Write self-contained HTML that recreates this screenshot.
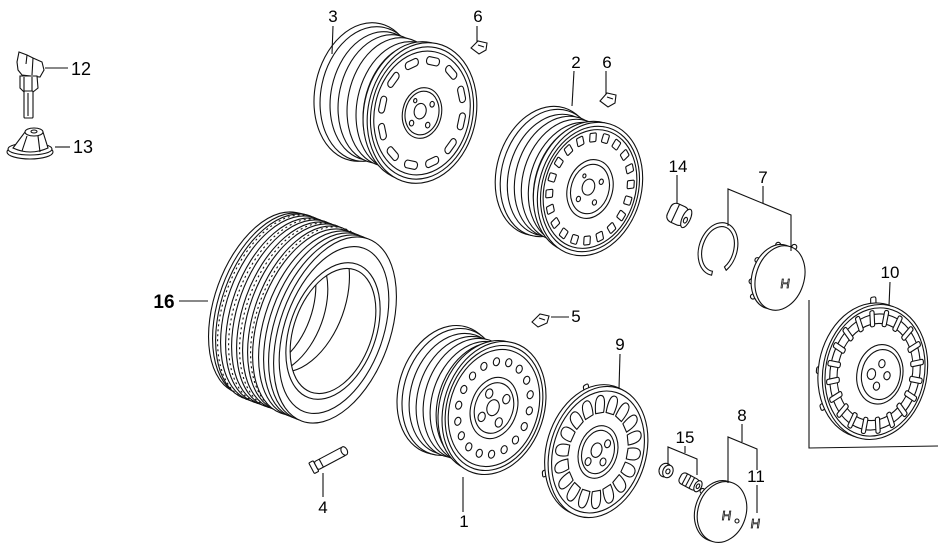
<!DOCTYPE html>
<html><head><meta charset="utf-8"><style>
html,body{margin:0;padding:0;background:#fff;}
svg{display:block}
.d ellipse,.d circle,.d path,.d rect,.d polygon{fill:#fff;stroke:#111;stroke-width:1.1;vector-effect:non-scaling-stroke;}
.d line,.d polyline{stroke:#111;stroke-width:1.1;fill:none;vector-effect:non-scaling-stroke}
.d .nf{fill:none}
.d .ds{fill:none;stroke-dasharray:2 3}
.lb text{font-family:"Liberation Sans",Arial,sans-serif;font-size:17px;fill:#000;text-anchor:middle}
.lb line{stroke:#111;stroke-width:1.1}
.em{font-family:"Liberation Sans",Arial,sans-serif;font-size:13px;fill:#fff;stroke:#111;stroke-width:0.8;text-anchor:middle}
</style></head><body>
<svg width="951" height="554" viewBox="0 0 951 554">
<rect width="951" height="554" fill="#fff"/>
<g class="d">

<!-- ===== Wheel 3 ===== -->
<ellipse transform="translate(365 92) rotate(12)" rx="50" ry="70"/>
<ellipse transform="translate(370 94) rotate(12)" rx="49" ry="68"/>
<ellipse transform="translate(377 96) rotate(12)" rx="46" ry="65"/>
<ellipse transform="translate(385 99) rotate(12)" rx="46" ry="65"/>
<ellipse transform="translate(394 102) rotate(12)" rx="46" ry="65"/>
<ellipse transform="translate(403 106) rotate(12)" rx="46" ry="65"/>
<ellipse transform="translate(411 109) rotate(12)" rx="47" ry="66"/>
<ellipse transform="translate(416 111) rotate(12)" rx="52" ry="70"/>
<g transform="translate(422 113) rotate(12) scale(0.54 0.71)">
<circle r="100"/><circle r="94"/><circle r="88"/>
<rect x="-12" y="-80" width="24" height="11" rx="5"/>
<rect x="-12" y="-80" width="24" height="11" rx="5" transform="rotate(30)"/>
<rect x="-12" y="-80" width="24" height="11" rx="5" transform="rotate(60)"/>
<rect x="-12" y="-80" width="24" height="11" rx="5" transform="rotate(90)"/>
<rect x="-12" y="-80" width="24" height="11" rx="5" transform="rotate(120)"/>
<rect x="-12" y="-80" width="24" height="11" rx="5" transform="rotate(150)"/>
<rect x="-12" y="-80" width="24" height="11" rx="5" transform="rotate(180)"/>
<rect x="-12" y="-80" width="24" height="11" rx="5" transform="rotate(210)"/>
<rect x="-12" y="-80" width="24" height="11" rx="5" transform="rotate(240)"/>
<rect x="-12" y="-80" width="24" height="11" rx="5" transform="rotate(270)"/>
<rect x="-12" y="-80" width="24" height="11" rx="5" transform="rotate(300)"/>
<rect x="-12" y="-80" width="24" height="11" rx="5" transform="rotate(330)"/>
<circle r="36"/><circle r="31"/>
<circle cx="-4" cy="-2" r="11"/>
<circle cx="15" cy="-15" r="4"/><circle cx="15" cy="15" r="4"/><circle cx="-15" cy="17" r="4"/><circle cx="-17" cy="-15" r="3"/>
</g>

<!-- ===== Wheel 2 ===== -->
<ellipse transform="translate(545 171) rotate(17)" rx="48" ry="66"/>
<ellipse transform="translate(549 173) rotate(17)" rx="47" ry="65"/>
<ellipse transform="translate(554 175) rotate(17)" rx="45" ry="62"/>
<ellipse transform="translate(561 177) rotate(17)" rx="45" ry="62"/>
<ellipse transform="translate(568 180) rotate(17)" rx="45" ry="62"/>
<ellipse transform="translate(575 183) rotate(17)" rx="45" ry="62"/>
<ellipse transform="translate(581 185) rotate(17)" rx="46" ry="63"/>
<ellipse transform="translate(585 187) rotate(17)" rx="50" ry="67"/>
<g transform="translate(590 189) rotate(17) scale(0.51 0.68)">
<circle r="100"/><circle r="94"/><circle r="89"/>
<rect x="-6" y="-84" width="12" height="13" rx="2"/>
<rect x="-6" y="-84" width="12" height="13" rx="2" transform="rotate(18)"/>
<rect x="-6" y="-84" width="12" height="13" rx="2" transform="rotate(36)"/>
<rect x="-6" y="-84" width="12" height="13" rx="2" transform="rotate(54)"/>
<rect x="-6" y="-84" width="12" height="13" rx="2" transform="rotate(72)"/>
<rect x="-6" y="-84" width="12" height="13" rx="2" transform="rotate(90)"/>
<rect x="-6" y="-84" width="12" height="13" rx="2" transform="rotate(108)"/>
<rect x="-6" y="-84" width="12" height="13" rx="2" transform="rotate(126)"/>
<rect x="-6" y="-84" width="12" height="13" rx="2" transform="rotate(144)"/>
<rect x="-6" y="-84" width="12" height="13" rx="2" transform="rotate(162)"/>
<rect x="-6" y="-84" width="12" height="13" rx="2" transform="rotate(180)"/>
<rect x="-6" y="-84" width="12" height="13" rx="2" transform="rotate(198)"/>
<rect x="-6" y="-84" width="12" height="13" rx="2" transform="rotate(216)"/>
<rect x="-6" y="-84" width="12" height="13" rx="2" transform="rotate(234)"/>
<rect x="-6" y="-84" width="12" height="13" rx="2" transform="rotate(252)"/>
<rect x="-6" y="-84" width="12" height="13" rx="2" transform="rotate(270)"/>
<rect x="-6" y="-84" width="12" height="13" rx="2" transform="rotate(288)"/>
<rect x="-6" y="-84" width="12" height="13" rx="2" transform="rotate(306)"/>
<rect x="-6" y="-84" width="12" height="13" rx="2" transform="rotate(324)"/>
<rect x="-6" y="-84" width="12" height="13" rx="2" transform="rotate(342)"/>
<circle r="44"/><circle r="37"/>
<circle cx="-4" cy="-2" r="12"/>
<circle cx="17" cy="-15" r="4"/><circle cx="16" cy="17" r="4"/><circle cx="-16" cy="19" r="4"/><circle cx="-18" cy="-16" r="3"/>
</g>

<!-- ===== Tire 16 ===== -->
<ellipse transform="translate(268 303) rotate(20)" rx="53" ry="95"/>
<ellipse transform="translate(273 305) rotate(20)" rx="54" ry="96"/>
<ellipse transform="translate(277 307) rotate(20)" rx="55" ry="97"/>
<ellipse class="ds" transform="translate(279 308) rotate(20)" rx="55" ry="97"/>
<ellipse transform="translate(282 309) rotate(20)" rx="55" ry="97"/>
<ellipse transform="translate(287 311) rotate(20)" rx="55" ry="97"/>
<ellipse class="ds" transform="translate(290 312) rotate(20)" rx="55" ry="97"/>
<ellipse transform="translate(293 313) rotate(20)" rx="55" ry="97"/>
<ellipse transform="translate(298 315) rotate(20)" rx="55" ry="97"/>
<ellipse class="ds" transform="translate(301 316) rotate(20)" rx="55" ry="97"/>
<ellipse transform="translate(304 317) rotate(20)" rx="55" ry="97"/>
<ellipse transform="translate(309 319) rotate(20)" rx="55" ry="97"/>
<ellipse class="ds" transform="translate(312 320) rotate(20)" rx="55" ry="97"/>
<ellipse transform="translate(314 322) rotate(20)" rx="55" ry="97"/>
<ellipse transform="translate(320 324) rotate(20)" rx="55" ry="97"/>
<ellipse transform="translate(325 326) rotate(20)" rx="55" ry="97"/>
<ellipse transform="translate(330 328) rotate(20)" rx="55" ry="97"/>
<ellipse transform="translate(335 330) rotate(20)" rx="55" ry="97"/>
<ellipse transform="translate(334 330) rotate(20)" rx="49" ry="87"/>
<ellipse transform="translate(333 331) rotate(20)" rx="43" ry="71"/>
<ellipse transform="translate(333 331) rotate(20)" rx="39" ry="65"/>
<clipPath id="hole"><ellipse transform="translate(333 331) rotate(20)" rx="39" ry="65"/></clipPath>
<g clip-path="url(#hole)">
<ellipse class="nf" transform="translate(272 306) rotate(20)" rx="40" ry="66"/>
<ellipse class="nf" transform="translate(282 309) rotate(20)" rx="42" ry="68"/>
<ellipse class="nf" transform="translate(300 300) rotate(20)" rx="45" ry="75"/>
</g>

<!-- ===== Wheel 1 ===== -->
<ellipse transform="translate(447 390) rotate(18)" rx="48" ry="66"/>
<ellipse transform="translate(451 392) rotate(18)" rx="47" ry="65"/>
<ellipse transform="translate(456 394) rotate(18)" rx="45" ry="62"/>
<ellipse transform="translate(463 397) rotate(18)" rx="45" ry="62"/>
<ellipse transform="translate(470 399) rotate(18)" rx="45" ry="62"/>
<ellipse transform="translate(477 402) rotate(18)" rx="45" ry="62"/>
<ellipse transform="translate(484 404) rotate(18)" rx="46" ry="63"/>
<ellipse transform="translate(489 406) rotate(18)" rx="49" ry="67"/>
<g transform="translate(494 408) rotate(18) scale(0.50 0.68)">
<circle r="100"/><circle r="94"/><circle r="88"/>
<circle cy="-70" r="6"/>
<circle cy="-70" r="6" transform="rotate(20)"/>
<circle cy="-70" r="6" transform="rotate(40)"/>
<circle cy="-70" r="6" transform="rotate(60)"/>
<circle cy="-70" r="6" transform="rotate(80)"/>
<circle cy="-70" r="6" transform="rotate(100)"/>
<circle cy="-70" r="6" transform="rotate(120)"/>
<circle cy="-70" r="6" transform="rotate(140)"/>
<circle cy="-70" r="6" transform="rotate(160)"/>
<circle cy="-70" r="6" transform="rotate(180)"/>
<circle cy="-70" r="6" transform="rotate(200)"/>
<circle cy="-70" r="6" transform="rotate(220)"/>
<circle cy="-70" r="6" transform="rotate(240)"/>
<circle cy="-70" r="6" transform="rotate(260)"/>
<circle cy="-70" r="6" transform="rotate(280)"/>
<circle cy="-70" r="6" transform="rotate(300)"/>
<circle cy="-70" r="6" transform="rotate(320)"/>
<circle cy="-70" r="6" transform="rotate(340)"/>
<circle r="46"/><circle r="38"/>
<circle cx="18" cy="-18" r="7"/><circle cx="18" cy="18" r="7"/><circle cx="-18" cy="18" r="7"/><circle cx="-18" cy="-18" r="7"/>
<circle cx="-2" cy="0" r="12"/>
</g>

<!-- ===== Valve 4 ===== -->
<g transform="translate(331 458) rotate(-28)">
<rect x="-22" y="-6" width="5" height="12" rx="1"/>
<rect x="-17" y="-4.5" width="32" height="9" rx="2"/>
<line x1="-11" y1="-4.5" x2="-11" y2="4.5"/>
<ellipse cx="15" cy="0" rx="3" ry="4.5"/>
</g>

<!-- ===== Part 12 ===== -->
<path d="M17,62 L19,52 L27,55 L33,58 L42,62 L44,70 L40,77 L22,75 L18,70 Z"/>
<line x1="27" y1="55" x2="26" y2="64"/><line x1="33" y1="58" x2="32" y2="75"/>
<path d="M20,76 L37,76 L38,88 L33,92 L24,92 L20,88 Z"/>
<line x1="24" y1="77" x2="24" y2="91"/><line x1="32" y1="77" x2="32" y2="91"/>
<rect x="24" y="91" width="9" height="27" rx="1"/>
<line x1="28" y1="93" x2="28" y2="116"/>

<!-- ===== Part 13 ===== -->
<ellipse cx="30" cy="152" rx="23" ry="7"/>
<ellipse cx="30" cy="149" rx="22" ry="6"/>
<path d="M13,148 L25,132 L43,132 L48,148 Q30,156 13,148 Z"/>
<line x1="27" y1="136" x2="22" y2="151"/><line x1="38" y1="136" x2="40" y2="152"/>
<ellipse cx="34" cy="132" rx="9" ry="4"/>
<ellipse cx="34" cy="131.5" rx="3" ry="1.5"/>

<!-- ===== Clips 6 & 5 ===== -->
<path d="M471,48 L478,41 L487,43 L486,50 L479,54 Z"/><line x1="478" y1="45" x2="484" y2="47"/>
<path d="M600,101 L607,93 L616,95 L615,103 L608,107 Z"/><line x1="607" y1="97" x2="613" y2="99"/>
<path d="M532,322 L540,314 L549,316 L547,323 L538,327 Z"/><line x1="539" y1="318" x2="545" y2="320"/>

<!-- ===== Nut 14 ===== -->
<g transform="translate(679 215) rotate(25)">
<rect x="-11" y="-10" width="19" height="20" rx="6"/>
<line x1="-4" y1="-10" x2="-4" y2="10"/>
<ellipse cx="8" cy="0" rx="4" ry="10"/>
<ellipse cx="8" cy="2" rx="1.8" ry="3"/>
</g>

<!-- ===== Ring & Cap 7 ===== -->
<g transform="translate(718 249) rotate(18)">
<path d="M1.99,26.85 A19,27 0 1 1 14.34,17.71 L11.7,15.09 A15.5,23 0 1 0 1.62,22.87 Z"/>
</g>
<g transform="translate(780 278) rotate(18)">
<circle cx="-27" cy="-10" r="2.5"/><circle cx="-26" cy="12" r="2.5"/><circle cx="-20" cy="26" r="2.5"/><circle cx="-12" cy="-31" r="2.5"/><circle cx="4" cy="-34" r="2.5"/>
<ellipse cx="-4" cy="0" rx="24" ry="33"/>
<ellipse cx="0" cy="0" rx="24" ry="33"/>
</g>
<text class="em" x="785" y="288" transform="skewX(-8) translate(40 0)">H</text>

<!-- ===== Hubcap 9 ===== -->
<g transform="translate(598 452) rotate(17) scale(0.48 0.67)">
<rect x="-5" y="-112" width="10" height="16" rx="3" transform="rotate(-36)"/>
<rect x="-5" y="-112" width="10" height="16" rx="3" transform="rotate(-120)"/>
<circle cx="-8" cy="-1" r="100"/>
<circle r="100"/><circle r="93"/>
<path d="M-8,-60 C-11,-78 -8,-87 0,-87 C8,-87 11,-78 8,-60 Z"/>
<path d="M-8,-60 C-11,-78 -8,-87 0,-87 C8,-87 11,-78 8,-60 Z" transform="rotate(20)"/>
<path d="M-8,-60 C-11,-78 -8,-87 0,-87 C8,-87 11,-78 8,-60 Z" transform="rotate(40)"/>
<path d="M-8,-60 C-11,-78 -8,-87 0,-87 C8,-87 11,-78 8,-60 Z" transform="rotate(60)"/>
<path d="M-8,-60 C-11,-78 -8,-87 0,-87 C8,-87 11,-78 8,-60 Z" transform="rotate(80)"/>
<path d="M-8,-60 C-11,-78 -8,-87 0,-87 C8,-87 11,-78 8,-60 Z" transform="rotate(100)"/>
<path d="M-8,-60 C-11,-78 -8,-87 0,-87 C8,-87 11,-78 8,-60 Z" transform="rotate(120)"/>
<path d="M-8,-60 C-11,-78 -8,-87 0,-87 C8,-87 11,-78 8,-60 Z" transform="rotate(140)"/>
<path d="M-8,-60 C-11,-78 -8,-87 0,-87 C8,-87 11,-78 8,-60 Z" transform="rotate(160)"/>
<path d="M-8,-60 C-11,-78 -8,-87 0,-87 C8,-87 11,-78 8,-60 Z" transform="rotate(180)"/>
<path d="M-8,-60 C-11,-78 -8,-87 0,-87 C8,-87 11,-78 8,-60 Z" transform="rotate(200)"/>
<path d="M-8,-60 C-11,-78 -8,-87 0,-87 C8,-87 11,-78 8,-60 Z" transform="rotate(220)"/>
<path d="M-8,-60 C-11,-78 -8,-87 0,-87 C8,-87 11,-78 8,-60 Z" transform="rotate(240)"/>
<path d="M-8,-60 C-11,-78 -8,-87 0,-87 C8,-87 11,-78 8,-60 Z" transform="rotate(260)"/>
<path d="M-8,-60 C-11,-78 -8,-87 0,-87 C8,-87 11,-78 8,-60 Z" transform="rotate(280)"/>
<path d="M-8,-60 C-11,-78 -8,-87 0,-87 C8,-87 11,-78 8,-60 Z" transform="rotate(300)"/>
<path d="M-8,-60 C-11,-78 -8,-87 0,-87 C8,-87 11,-78 8,-60 Z" transform="rotate(320)"/>
<path d="M-8,-60 C-11,-78 -8,-87 0,-87 C8,-87 11,-78 8,-60 Z" transform="rotate(340)"/>
<circle r="40"/><circle r="33"/>
<circle cx="-4" cy="-2" r="11"/>
<circle cx="14" cy="-16" r="6"/><circle cx="16" cy="12" r="6"/><circle cx="-14" cy="18" r="6"/>
</g>

<!-- ===== Part 15 ===== -->
<g transform="translate(667 471) rotate(25)">
<ellipse cx="-2" cy="0" rx="6" ry="7"/>
<ellipse cx="1" cy="0" rx="5" ry="6.5"/>
<ellipse cx="1" cy="0" rx="2" ry="2.5"/>
</g>
<g transform="translate(690 482) rotate(28)">
<rect x="-11" y="-6" width="20" height="12" rx="4"/>
<line x1="-6" y1="-6" x2="-6" y2="6"/><line x1="-2" y1="-6" x2="-2" y2="6"/><line x1="2" y1="-6" x2="2" y2="6"/>
<ellipse cx="9" cy="0" rx="3.5" ry="6"/>
<ellipse cx="9" cy="0" rx="1.5" ry="2.5"/>
</g>

<!-- ===== Cap 8 ===== -->
<g transform="translate(722 512) rotate(18)">
<circle cx="-25" cy="-14" r="2.5"/>
<ellipse cx="-3" cy="0" rx="24" ry="31"/>
<ellipse cx="0" cy="0" rx="24" ry="31"/>
</g>
<text class="em" x="726" y="520" transform="skewX(-8) translate(73 0)">H</text>
<circle cx="737" cy="521" r="2"/>
<text class="em" x="755" y="528" transform="skewX(-8) translate(74 0)">H</text>

<!-- ===== Hubcap 10 ===== -->
<g transform="translate(875 372) rotate(11) scale(0.52 0.68)">
<rect x="-5" y="-112" width="10" height="16" rx="3" transform="rotate(-16)"/>
<rect x="-5" y="-112" width="10" height="16" rx="3" transform="rotate(-97)"/>
<rect x="-5" y="-112" width="10" height="16" rx="3" transform="rotate(-127)"/>
<circle cx="-9" cy="-1" r="100"/>
<circle r="100"/><circle r="95"/><circle r="86"/><circle r="72"/>
<rect x="-4" y="-92" width="8" height="24" rx="3"/>
<rect x="-4" y="-92" width="8" height="24" rx="3" transform="rotate(18)"/>
<rect x="-4" y="-92" width="8" height="24" rx="3" transform="rotate(36)"/>
<rect x="-4" y="-92" width="8" height="24" rx="3" transform="rotate(54)"/>
<rect x="-4" y="-92" width="8" height="24" rx="3" transform="rotate(72)"/>
<rect x="-4" y="-92" width="8" height="24" rx="3" transform="rotate(90)"/>
<rect x="-4" y="-92" width="8" height="24" rx="3" transform="rotate(108)"/>
<rect x="-4" y="-92" width="8" height="24" rx="3" transform="rotate(126)"/>
<rect x="-4" y="-92" width="8" height="24" rx="3" transform="rotate(144)"/>
<rect x="-4" y="-92" width="8" height="24" rx="3" transform="rotate(162)"/>
<rect x="-4" y="-92" width="8" height="24" rx="3" transform="rotate(180)"/>
<rect x="-4" y="-92" width="8" height="24" rx="3" transform="rotate(198)"/>
<rect x="-4" y="-92" width="8" height="24" rx="3" transform="rotate(216)"/>
<rect x="-4" y="-92" width="8" height="24" rx="3" transform="rotate(234)"/>
<rect x="-4" y="-92" width="8" height="24" rx="3" transform="rotate(252)"/>
<rect x="-4" y="-92" width="8" height="24" rx="3" transform="rotate(270)"/>
<rect x="-4" y="-92" width="8" height="24" rx="3" transform="rotate(288)"/>
<rect x="-4" y="-92" width="8" height="24" rx="3" transform="rotate(306)"/>
<rect x="-4" y="-92" width="8" height="24" rx="3" transform="rotate(324)"/>
<rect x="-4" y="-92" width="8" height="24" rx="3" transform="rotate(342)"/>
<circle cx="10" cy="2" r="44"/><circle cx="12" cy="2" r="37"/>
<circle cx="10" cy="-14" r="6"/><circle cx="24" cy="2" r="6"/><circle cx="8" cy="20" r="6"/><circle cx="-6" cy="4" r="8"/>
</g>
</g>

<!-- ===== Labels & leaders ===== -->
<g class="lb">
<line x1="333" y1="26" x2="332" y2="54"/>
<line x1="477" y1="26" x2="477" y2="42"/>
<line x1="574" y1="71" x2="572" y2="106"/>
<line x1="606" y1="71" x2="606" y2="94"/>
<line x1="45" y1="68" x2="68" y2="68"/>
<line x1="55" y1="147" x2="70" y2="147"/>
<line x1="677" y1="175" x2="677" y2="204"/>
<line x1="763" y1="186" x2="763" y2="203"/>
<polyline points="728,226 728,189 791,215 791,251" fill="none" stroke="#111" stroke-width="1.1"/>
<line x1="890" y1="282" x2="889" y2="306"/>
<polyline points="809,300 809,448 938,446" fill="none" stroke="#111" stroke-width="1.1"/>
<line x1="179" y1="301" x2="208" y2="301"/>
<line x1="551" y1="317" x2="569" y2="317"/>
<line x1="620" y1="354" x2="619" y2="389"/>
<line x1="742" y1="424" x2="742" y2="442"/>
<polyline points="728,483 728,437 757,449 757,470" fill="none" stroke="#111" stroke-width="1.1"/>
<line x1="757" y1="485" x2="757" y2="513"/>
<line x1="685" y1="446" x2="685" y2="453"/>
<polyline points="668,465 668,447 697,459 697,475" fill="none" stroke="#111" stroke-width="1.1"/>
<line x1="323" y1="497" x2="323" y2="473"/>
<line x1="463" y1="512" x2="463" y2="477"/>

<text x="333" y="22">3</text>
<text x="478" y="22">6</text>
<text x="576" y="68">2</text>
<text x="607" y="68">6</text>
<text x="81" y="75" style="font-size:18px">12</text>
<text x="83" y="153" style="font-size:18px">13</text>
<text x="678" y="172">14</text>
<text x="763" y="183">7</text>
<text x="890" y="278">10</text>
<text x="164" y="308" style="font-size:19px;font-weight:bold">16</text>
<text x="576" y="322">5</text>
<text x="620" y="350">9</text>
<text x="742" y="421">8</text>
<text x="685" y="443">15</text>
<text x="756" y="482">11</text>
<text x="323" y="513">4</text>
<text x="464" y="527">1</text>
</g>
</svg>
</body></html>
